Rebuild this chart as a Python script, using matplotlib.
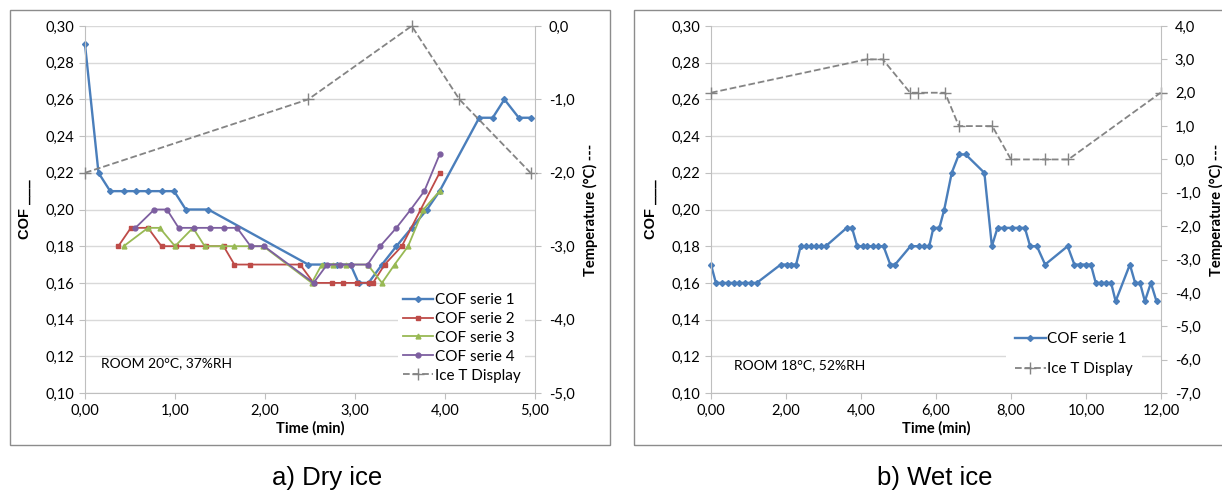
import numpy as np
import matplotlib
matplotlib.use("Agg")
import matplotlib.pyplot as plt
from matplotlib.ticker import FuncFormatter, MultipleLocator
from matplotlib.patches import Rectangle

plt.rcParams['font.family'] = ['Lato', 'DejaVu Sans']

# ---- a) Dry ice ----
dry_t1 = [0.00, 0.15, 0.28, 0.43, 0.57, 0.70, 0.85, 0.99, 1.12, 1.37, 2.48, 2.65, 2.80, 2.95,
          3.04, 3.15, 3.30, 3.46, 3.63, 3.80, 3.94, 4.38, 4.53, 4.66, 4.82, 4.96]
dry_cof1 = [0.29, 0.22, 0.21, 0.21, 0.21, 0.21, 0.21, 0.21, 0.20, 0.20, 0.17, 0.17, 0.17, 0.17,
            0.16, 0.16, 0.17, 0.18, 0.19, 0.20, 0.21, 0.25, 0.25, 0.26, 0.25, 0.25]
dry_t2 = [0.37, 0.51, 0.70, 0.85, 1.01, 1.19, 1.34, 1.54, 1.66, 1.83, 2.39, 2.54, 2.74, 2.87,
          3.02, 3.15, 3.20, 3.33, 3.52, 3.73, 3.94]
dry_cof2 = [0.18, 0.19, 0.19, 0.18, 0.18, 0.18, 0.18, 0.18, 0.17, 0.17, 0.17, 0.16, 0.16, 0.16,
            0.16, 0.16, 0.16, 0.17, 0.18, 0.20, 0.22]
dry_t3 = [0.43, 0.70, 0.83, 1.00, 1.20, 1.33, 1.52, 1.65, 1.83, 1.98, 2.52, 2.63, 2.76, 2.90,
          3.14, 3.30, 3.44, 3.59, 3.76, 3.94]
dry_cof3 = [0.18, 0.19, 0.19, 0.18, 0.19, 0.18, 0.18, 0.18, 0.18, 0.18, 0.16, 0.17, 0.17, 0.17,
            0.17, 0.16, 0.17, 0.18, 0.20, 0.21]
dry_t4 = [0.56, 0.77, 0.91, 1.04, 1.21, 1.39, 1.54, 1.69, 1.84, 1.99, 2.54, 2.69, 2.83, 2.96,
          3.14, 3.28, 3.46, 3.62, 3.77, 3.94]
dry_cof4 = [0.19, 0.20, 0.20, 0.19, 0.19, 0.19, 0.19, 0.19, 0.18, 0.18, 0.16, 0.17, 0.17, 0.17,
            0.17, 0.18, 0.19, 0.20, 0.21, 0.23]
dry_ice_t = [0.00, 2.48, 3.63, 4.16, 4.95]
dry_ice_temp = [-2.0, -1.0, 0.0, -1.0, -2.0]

# ---- b) Wet ice ----
wet_t = [0.00, 0.13, 0.29, 0.45, 0.60, 0.75, 0.91, 1.06, 1.22,
         1.86, 2.02, 2.13, 2.27,
         2.39, 2.53, 2.66, 2.79, 2.93, 3.06,
         3.62, 3.76,
         3.90, 4.04, 4.17, 4.31, 4.46, 4.60,
         4.78, 4.91,
         5.32, 5.54, 5.69, 5.82,
         5.93, 6.09, 6.22, 6.42, 6.61, 6.79, 7.29,
         7.49, 7.64, 7.82, 8.02, 8.21, 8.37,
         8.51, 8.69, 8.91, 9.51,
         9.69, 9.84, 9.99, 10.13,
         10.26, 10.40, 10.53, 10.67, 10.79,
         11.17, 11.31, 11.44, 11.57, 11.73, 11.88]
wet_cof = [0.17, 0.16, 0.16, 0.16, 0.16, 0.16, 0.16, 0.16, 0.16,
           0.17, 0.17, 0.17, 0.17,
           0.18, 0.18, 0.18, 0.18, 0.18, 0.18,
           0.19, 0.19,
           0.18, 0.18, 0.18, 0.18, 0.18, 0.18,
           0.17, 0.17,
           0.18, 0.18, 0.18, 0.18,
           0.19, 0.19, 0.20, 0.22, 0.23, 0.23, 0.22,
           0.18, 0.19, 0.19, 0.19, 0.19, 0.19,
           0.18, 0.18, 0.17, 0.18,
           0.17, 0.17, 0.17, 0.17,
           0.16, 0.16, 0.16, 0.16, 0.15,
           0.17, 0.16, 0.16, 0.15, 0.16, 0.15]
wet_ice_t = [0.00, 4.15, 4.58, 5.31, 5.51, 6.24, 6.61, 7.50, 8.00, 8.91, 9.53, 11.99]
wet_ice_temp = [2.0, 3.0, 3.0, 2.0, 2.0, 2.0, 1.0, 1.0, 0.0, 0.0, 0.0, 2.0]

BLUE = "#4A7EBB"
RED = "#BE4B48"
GREEN = "#98B954"
PURPLE = "#7D5FA0"
GRAY = "#848484"
GRID = "#D9D9D9"
AXC = "#BFBFBF"


def comma(dec):
    return FuncFormatter(lambda v, p: f"{v:.{dec}f}".replace(".", ","))


def style_axes(ax, ax2, xmax, xstep, tmin, tmax):
    ax.set_xlim(0, xmax)
    ax.set_ylim(0.10, 0.30)
    ax.yaxis.set_major_locator(MultipleLocator(0.02))
    ax.xaxis.set_major_locator(MultipleLocator(xstep))
    ax.yaxis.set_major_formatter(comma(2))
    ax.xaxis.set_major_formatter(comma(2))
    ax.grid(axis="y", color=GRID, linewidth=1.0)
    ax.set_axisbelow(True)
    for s in ["top", "right"]:
        ax.spines[s].set_visible(False)
    ax.spines["left"].set_color(AXC)
    ax.spines["bottom"].set_color(AXC)
    ax.tick_params(colors=AXC, labelcolor="black", labelsize=10.5, length=4)
    ax.set_xlabel("Time (min)", fontweight="bold", fontsize=10.5, labelpad=3)
    ax.set_ylabel("COF ___", fontweight="bold", fontsize=10.5, labelpad=10,
                  family=["Liberation Sans"])

    ax2.set_ylim(tmin, tmax)
    ax2.yaxis.set_major_locator(MultipleLocator(1.0))
    ax2.yaxis.set_major_formatter(comma(1))
    for s in ["top", "left", "bottom"]:
        ax2.spines[s].set_visible(False)
    ax2.spines["right"].set_color(AXC)
    ax2.tick_params(colors=AXC, labelcolor="black", labelsize=10.5, length=4, pad=6)
    ax2.set_ylabel("Temperature (°C) ---", fontweight="bold", fontsize=10.5, labelpad=6)


fig = plt.figure(figsize=(12.22, 4.92), dpi=100)

# panel frames
fig.patches.append(Rectangle((10 / 1222, 1 - 445 / 492), 600 / 1222, 435 / 492,
                             transform=fig.transFigure, fill=False, edgecolor="#8C8C8C", linewidth=1))
fig.patches.append(Rectangle((634 / 1222, 1 - 445 / 492), 620 / 1222, 435 / 492,
                             transform=fig.transFigure, fill=False, edgecolor="#8C8C8C", linewidth=1))

# ----- left -----
ax = fig.add_axes([85 / 1222, 1 - 393 / 492, 450 / 1222, 367 / 492])
ax2 = ax.twinx()
ms = 3.5
l1, = ax.plot(dry_t1, dry_cof1, color=BLUE, marker="D", markersize=3, linewidth=1.7,
              label="COF serie 1", clip_on=False)
l2, = ax.plot(dry_t2, dry_cof2, color=RED, marker="s", markersize=ms, linewidth=1.3, label="COF serie 2")
l3, = ax.plot(dry_t3, dry_cof3, color=GREEN, marker="^", markersize=ms, linewidth=1.3, label="COF serie 3")
l4, = ax.plot(dry_t4, dry_cof4, color=PURPLE, marker="o", markersize=ms, linewidth=1.3, label="COF serie 4")
l5, = ax2.plot(dry_ice_t, dry_ice_temp, color=GRAY, linestyle="--", marker="+", markersize=9,
               linewidth=1.3, label="Ice T Display", clip_on=False)
style_axes(ax, ax2, 5, 1, -5, 0)
ax.text(0.035, 0.07, "ROOM 20°C, 37%RH", transform=ax.transAxes, fontsize=10)
ax2.legend(handles=[l1, l2, l3, l4, l5], loc="lower right", bbox_to_anchor=(0.995, -0.005),
           fontsize=11, frameon=True, facecolor="white", edgecolor="none", framealpha=1,
           handlelength=2.0, handletextpad=0.1, labelspacing=0.32, borderpad=0.3)

# ----- right -----
bx = fig.add_axes([711 / 1222, 1 - 393 / 492, 450 / 1222, 367 / 492])
bx2 = bx.twinx()
m1, = bx.plot(wet_t, wet_cof, color=BLUE, marker="D", markersize=3, linewidth=1.7,
              label="COF serie 1", clip_on=False)
m2, = bx2.plot(wet_ice_t, wet_ice_temp, color=GRAY, linestyle="--", marker="+", markersize=9,
               linewidth=1.3, label="Ice T Display", clip_on=False)
style_axes(bx, bx2, 12, 2, -7, 4)
bx.text(0.05, 0.065, "ROOM 18°C, 52%RH", transform=bx.transAxes, fontsize=10)
bx2.legend(handles=[m1, m2], loc="lower right", bbox_to_anchor=(0.975, 0.0),
           fontsize=11, frameon=True, facecolor="white", edgecolor="none", framealpha=1,
           handlelength=2.0, handletextpad=0.1, labelspacing=1.05, borderpad=0.6)

# captions
fig.text(327 / 1222, 1 - 478 / 492, "a) Dry ice", ha="center", va="center", fontsize=18.5,
         family="Liberation Sans")
fig.text(935 / 1222, 1 - 478 / 492, "b) Wet ice", ha="center", va="center", fontsize=18.5,
         family="Liberation Sans")

fig.savefig("out.png", dpi=100)
